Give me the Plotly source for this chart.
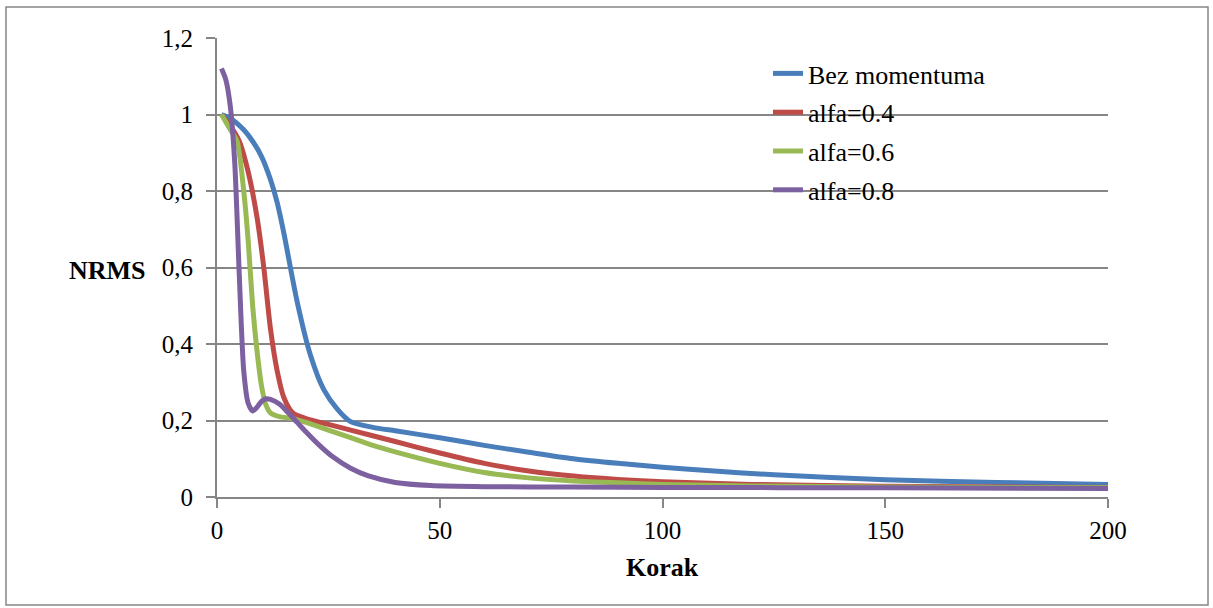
import plotly.graph_objects as go

# Koraci i NRMS vrijednosti (očitano sa slike)
bez_x = [1, 3, 6, 8, 10, 12, 13.5, 15, 18, 21, 24, 27, 30, 35, 40, 50, 60, 70, 80, 90, 100, 110, 125, 150, 175, 200]
bez_y = [1.0, 0.99, 0.96, 0.93, 0.89, 0.83, 0.77, 0.69, 0.51, 0.37, 0.28, 0.23, 0.197, 0.182, 0.173, 0.155,
         0.135, 0.117, 0.10, 0.088, 0.078, 0.069, 0.058, 0.045, 0.038, 0.033]

a04_x = [1, 3, 5, 7, 9, 10.5, 12, 13.5, 15, 17, 20, 25, 30, 40, 50, 60, 70, 80, 90, 100, 120, 150, 200]
a04_y = [1.0, 0.97, 0.93, 0.85, 0.73, 0.60, 0.44, 0.33, 0.26, 0.22, 0.205, 0.19, 0.175, 0.145, 0.115, 0.088,
         0.068, 0.055, 0.046, 0.040, 0.033, 0.028, 0.025]

a06_x = [1, 3, 4.5, 6, 7, 8, 9, 10, 11, 12, 14, 17, 20, 25, 30, 35, 40, 50, 60, 70, 80, 90, 100, 120, 150, 200]
a06_y = [1.0, 0.96, 0.93, 0.80, 0.67, 0.50, 0.38, 0.29, 0.24, 0.22, 0.21, 0.205, 0.195, 0.175, 0.155, 0.135,
         0.118, 0.088, 0.064, 0.050, 0.042, 0.037, 0.033, 0.029, 0.026, 0.024]

a08_x = [1, 2, 3, 4, 5, 6, 7, 8, 9, 10, 11, 12, 14, 16, 18, 20, 23, 26, 30, 34, 40, 48, 60, 80, 100, 150, 200]
a08_y = [1.12, 1.09, 1.02, 0.87, 0.58, 0.33, 0.245, 0.225, 0.235, 0.25, 0.257, 0.255, 0.243, 0.22, 0.195, 0.17,
         0.135, 0.105, 0.075, 0.055, 0.038, 0.030, 0.027, 0.026, 0.025, 0.024, 0.022]

serije = [
    ("Bez momentuma", bez_x, bez_y, "#4A7EBB"),
    ("alfa=0.4", a04_x, a04_y, "#BE4B48"),
    ("alfa=0.6", a06_x, a06_y, "#98B954"),
    ("alfa=0.8", a08_x, a08_y, "#7D60A0"),
]

fig = go.Figure()
for i, (ime, xs, ys, boja) in enumerate(serije):
    fig.add_trace(go.Scatter(
        x=xs, y=ys, name=ime, mode="lines",
        line=dict(color=boja, width=5, shape="spline", smoothing=0.7),
        legendgroup=str(i),
    ))

W, H = 1213, 608
L, R, T, B = 217, 105, 38, 111
pw, ph = W - L - R, H - T - B

font = dict(family="Times New Roman", size=26, color="#000000")
tick_font = dict(family="Times New Roman", size=25, color="#000000")
siva = "#868686"

fig.update_layout(
    width=W, height=H,
    margin=dict(l=L, r=R, t=T, b=B),
    paper_bgcolor="white", plot_bgcolor="white",
    font=font,
    separators=", ",
    showlegend=True,
    legend=dict(
        x=(768 - L) / pw, y=(497 - 50) / ph, xanchor="left", yanchor="top",
        bgcolor="rgba(0,0,0,0)", font=font,
        traceorder="grouped", tracegroupgap=2,
    ),
    xaxis=dict(
        range=[0, 200], tickvals=[0, 50, 100, 150, 200],
        showgrid=False, zeroline=False,
        showline=True, linecolor=siva, linewidth=2,
        ticks="outside", ticklen=9, tickcolor=siva, tickwidth=2,
        ticklabelstandoff=1,
        tickfont=tick_font,
    ),
    yaxis=dict(
        range=[0, 1.2], tickvals=[0, 0.2, 0.4, 0.6, 0.8, 1, 1.2],
        ticktext=["0", "0,2", "0,4", "0,6", "0,8", "1", "1,2"],
        showgrid=True, gridcolor=siva, gridwidth=1.5,
        zeroline=False,
        showline=True, linecolor=siva, linewidth=2,
        ticks="outside", ticklen=9, tickcolor=siva, tickwidth=2,
        ticklabelstandoff=8,
        tickfont=tick_font,
    ),
    annotations=[
        dict(
            text="<b>NRMS</b>", xref="paper", yref="paper",
            x=(148 - L) / pw, y=(497 - 270) / ph, xanchor="right", yanchor="middle",
            showarrow=False, font=font,
        ),
        dict(
            text="<b>Korak</b>", xref="paper", yref="paper",
            x=0.5, y=(497 - 567) / ph, xanchor="center", yanchor="middle",
            showarrow=False, font=font,
        ),
    ],
    shapes=[dict(
        type="rect", xref="paper", yref="paper",
        x0=(6 - L) / pw, x1=(1208 - L) / pw,
        y0=(497 - 605) / ph, y1=(497 - 7) / ph,
        line=dict(color=siva, width=1.5), fillcolor="rgba(0,0,0,0)",
    )],
)

fig.write_html("out.html", config={"displayModeBar": False},
               post_script="document.body.style.margin='0';")
